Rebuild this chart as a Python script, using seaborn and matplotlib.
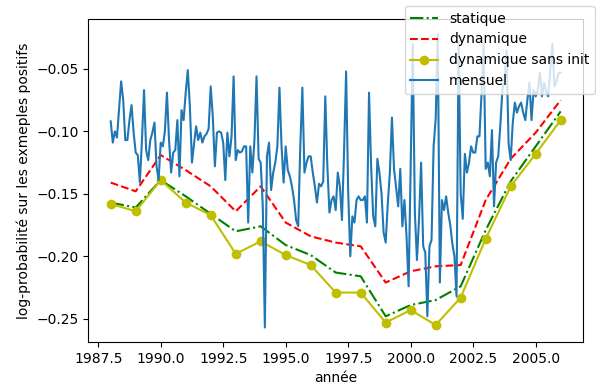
import numpy as np
import matplotlib
matplotlib.use("Agg")
import matplotlib.pyplot as plt
import seaborn as sns

# annual series
annees = [1988, 1989, 1990, 1991, 1992, 1993, 1994, 1995, 1996, 1997,
          1998, 1999, 2000, 2001, 2002, 2003, 2004, 2005, 2006]
statique = [-0.157, -0.161, -0.139, -0.152, -0.166, -0.180, -0.176, -0.191, -0.199, -0.213,
            -0.216, -0.248, -0.239, -0.235, -0.224, -0.179, -0.140, -0.112, -0.084]
dynamique = [-0.141, -0.148, -0.119, -0.131, -0.144, -0.164, -0.144, -0.173, -0.184, -0.189,
             -0.192, -0.221, -0.212, -0.208, -0.207, -0.155, -0.122, -0.101, -0.075]
sans_init = [-0.158, -0.164, -0.139, -0.157, -0.167, -0.198, -0.188, -0.199, -0.207, -0.229,
             -0.229, -0.253, -0.243, -0.255, -0.233, -0.186, -0.144, -0.118, -0.091]

# monthly series, jan 1988 -> jan 2006
mensuel = [
    -0.092, -0.109, -0.100, -0.105, -0.083, -0.060, -0.075, -0.107, -0.107, -0.091, -0.079, -0.101,  # 1988
    -0.117, -0.119, -0.141, -0.107, -0.067, -0.115, -0.123, -0.107, -0.101, -0.093, -0.128, -0.139,  # 1989
    -0.109, -0.112, -0.100, -0.069, -0.107, -0.133, -0.117, -0.115, -0.091, -0.136, -0.083, -0.091,  # 1990
    -0.069, -0.051, -0.080, -0.125, -0.110, -0.096, -0.107, -0.101, -0.109, -0.104, -0.102, -0.098,  # 1991
    -0.064, -0.088, -0.128, -0.101, -0.100, -0.101, -0.109, -0.139, -0.101, -0.120, -0.104, -0.056,  # 1992
    -0.123, -0.115, -0.117, -0.116, -0.112, -0.112, -0.173, -0.112, -0.133, -0.107, -0.056, -0.122,  # 1993
    -0.125, -0.160, -0.257, -0.120, -0.109, -0.147, -0.133, -0.125, -0.112, -0.065, -0.112, -0.141,  # 1994
    -0.112, -0.131, -0.136, -0.144, -0.155, -0.171, -0.176, -0.112, -0.065, -0.133, -0.125, -0.120,  # 1995
    -0.120, -0.133, -0.144, -0.157, -0.142, -0.144, -0.140, -0.072, -0.128, -0.165, -0.155, -0.152,  # 1996
    -0.163, -0.133, -0.144, -0.171, -0.117, -0.052, -0.149, -0.200, -0.168, -0.173, -0.155, -0.152,  # 1997
    -0.155, -0.155, -0.152, -0.173, -0.069, -0.128, -0.168, -0.176, -0.122, -0.133, -0.150, -0.181,  # 1998
    -0.189, -0.158, -0.133, -0.089, -0.130, -0.145, -0.160, -0.130, -0.176, -0.155, -0.184, -0.224,  # 1999
    -0.125, -0.030, -0.165, -0.203, -0.170, -0.125, -0.192, -0.197, -0.248, -0.192, -0.187, -0.112,  # 2000
    -0.090, -0.022, -0.221, -0.155, -0.163, -0.152, -0.165, -0.175, -0.190, -0.200, -0.232, -0.028,  # 2001
    -0.150, -0.170, -0.118, -0.133, -0.125, -0.112, -0.117, -0.117, -0.104, -0.104, -0.070, -0.030,  # 2002
    -0.130, -0.125, -0.136, -0.099, -0.160, -0.125, -0.120, -0.096, -0.067, -0.060, -0.035, -0.110,  # 2003
    -0.123, -0.093, -0.077, -0.085, -0.080, -0.077, -0.085, -0.091, -0.075, -0.061, -0.091, -0.067,  # 2004
    -0.072, -0.067, -0.053, -0.072, -0.061, -0.068, -0.072, -0.051, -0.030, -0.064, -0.060, -0.053,  # 2005
    -0.053,  # 2006
]
mois = 1988 + np.arange(len(mensuel)) / 12.0

fig = plt.figure(figsize=(5.96, 3.88), dpi=100)
ax = fig.add_axes([0.148, 0.118, 0.8305, 0.8325])

sns.lineplot(x=annees, y=statique, color="g", linestyle="-.", label="statique", ax=ax)
sns.lineplot(x=annees, y=dynamique, color="r", linestyle="--", label="dynamique", ax=ax)
sns.lineplot(x=annees, y=sans_init, color="y", marker="o", markersize=6,
             markeredgecolor="y", markeredgewidth=1, label="dynamique sans init", ax=ax)
sns.lineplot(x=mois, y=mensuel, color="#1f77b4", label="mensuel", ax=ax)

ax.set_xlabel("année")
ax.set_ylabel("log-probabilité sur les exmeples positifs")
ax.legend(loc="upper right", bbox_to_anchor=(1.024, 1.041), borderaxespad=0)

fig.savefig("out.png", dpi=100)
